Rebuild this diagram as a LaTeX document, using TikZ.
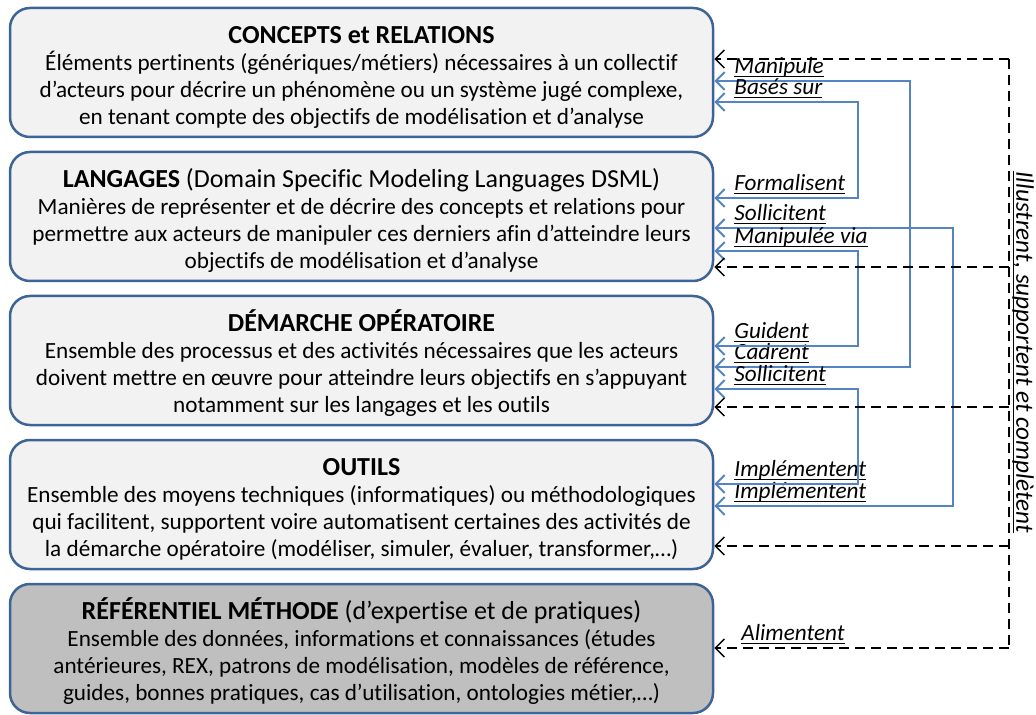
\documentclass[tikz,border=0pt]{standalone}
\usepackage{fontspec}
\setmainfont{Carlito}[Ligatures={TeX,NoCommon}]
\usetikzlibrary{positioning, calc, arrows.meta}

\definecolor{boxline}{RGB}{60,100,150}
\definecolor{boxfill}{RGB}{242,242,242}
\definecolor{reffill}{RGB}{191,191,191}
\definecolor{linkblue}{RGB}{84,132,196}

% underlined link label, rule at a fixed depth
\newsavebox\lblbox
\newcommand\lblline[1]{\sbox\lblbox{#1}\rlap{\rule[-1.9pt]{\wd\lblbox}{0.55pt}}\usebox\lblbox}

\begin{document}
\begin{tikzpicture}[x=0.5pt, y=-0.5pt]
  \newcommand\boxgap{6.25pt}
  \newcommand\labelx{734}
  \newcommand\titlefont{\rule{0pt}{13.5pt}\fontsize{13}{15}\selectfont}

  \tikzset{layer/.style={draw=boxline, line width=1.25pt, fill=boxfill, rounded corners=10pt,
      minimum width=351.5pt, minimum height=64.5pt, align=center,
      font=\fontsize{11.6}{13.5}\selectfont}}
  \tikzset{reflayer/.style={layer, fill=reffill}}
  \tikzset{lbl/.style={anchor=south west, inner sep=0pt, text depth=3.5pt,
      font=\fontsize{11.6}{13}\selectfont\itshape}}
  \tikzset{link/.style={draw=linkblue, line width=1pt,
      {Straight Barb[length=4.5pt, width=9pt]}-{Straight Barb[length=4.5pt, width=9pt]}}}
  \tikzset{feedline/.style={draw=black, line width=0.75pt, dash pattern=on 5pt off 3pt}}
  \tikzset{feed/.style={feedline, -{Straight Barb[length=4.5pt, width=9pt]}}}

  \useasboundingbox (0,0) rectangle (1036,715);

  % the five layers
  \node[layer] at (361.5,72.5) (concepts) {{\titlefont\bfseries CONCEPTS et RELATIONS}\\[0.25pt]
    Éléments pertinents (génériques/métiers) nécessaires à un collectif\\
    d’acteurs pour décrire un phénomène ou un système jugé complexe,\\
    en tenant compte des objectifs de modélisation et d’analyse};
  \node[layer, below=\boxgap of concepts] (langages) {{\titlefont\textbf{LANGAGES} (Domain Specific Modeling Languages DSML)}\\[0.25pt]
    Manières de représenter et de décrire des concepts et relations pour\\
    permettre aux acteurs de manipuler ces derniers afin d’atteindre leurs\\
    objectifs de modélisation et d’analyse};
  \node[layer, below=\boxgap of langages] (demarche) {{\titlefont\bfseries DÉMARCHE OPÉRATOIRE}\\[0.25pt]
    Ensemble des processus et des activités nécessaires que les acteurs\\
    doivent mettre en œuvre pour atteindre leurs objectifs en s’appuyant\\
    notamment sur les langages et les outils};
  \node[layer, below=\boxgap of demarche] (outils) {{\titlefont\bfseries OUTILS}\\[0.25pt]
    Ensemble des moyens techniques (informatiques) ou méthodologiques\\
    qui facilitent, supportent voire automatisent certaines des activités de\\
    la démarche opératoire (modéliser, simuler, évaluer, transformer,…)};
  \node[reflayer, below=\boxgap of outils] (referentiel) {{\titlefont\textbf{RÉFÉRENTIEL MÉTHODE} (d’expertise et de pratiques)}\\[0.25pt]
    Ensemble des données, informations et connaissances (études\\
    antérieures, REX, patrons de modélisation, modèles de référence,\\
    guides, bonnes pratiques, cas d’utilisation, ontologies métier,…)};

  % vertical rails of the links
  \coordinate (railin) at (858,0);
  \coordinate (railmid) at (910,0);
  \coordinate (railout) at (953,0);

  % two-way links, one label at each end
  \foreach \src/\srcy/\srclbl/\dst/\dsty/\dstlbl/\rail in {
      concepts/81/Manipule/demarche/367/Cadrent/railmid,
      concepts/102/{Basés sur}/langages/198/Formalisent/railin,
      langages/228/Sollicitent/outils/506/Implémentent/railout,
      langages/251/{Manipulée via}/demarche/346/Guident/railin,
      demarche/389/Sollicitent/outils/484/Implémentent/railin}{
    \node[lbl] (\src-\srcy) at (\labelx,\srcy) {\lblline{\srclbl}};
    \node[lbl] (\dst-\dsty) at (\labelx,\dsty) {\lblline{\dstlbl}};
    \draw[link] (\src.east |- \src-\srcy.south) -| (\rail |- \dst-\dsty.south) -- (\dst.east |- \dst-\dsty.south);
  }

  % dashed feedback from the method repository
  \foreach \dst/\y in {concepts/59, langages/267, demarche/407, outils/546, referentiel/648}{
    \coordinate (feed-\dst) at (1009,\y);
    \draw[feed] (feed-\dst) -- (\dst.east |- feed-\dst);
  }
  \draw[feedline] (feed-concepts) -- (feed-referentiel);
  \node[lbl] (alimentent) at (741,648) {\lblline{Alimentent}};
  \node[lbl, anchor=south, rotate=-90, font=\fontsize{12.6}{14}\selectfont\itshape] (illustrent) at (1009,352) {\lblline{Illustrent, supportent et complètent}};
\end{tikzpicture}
\end{document}
